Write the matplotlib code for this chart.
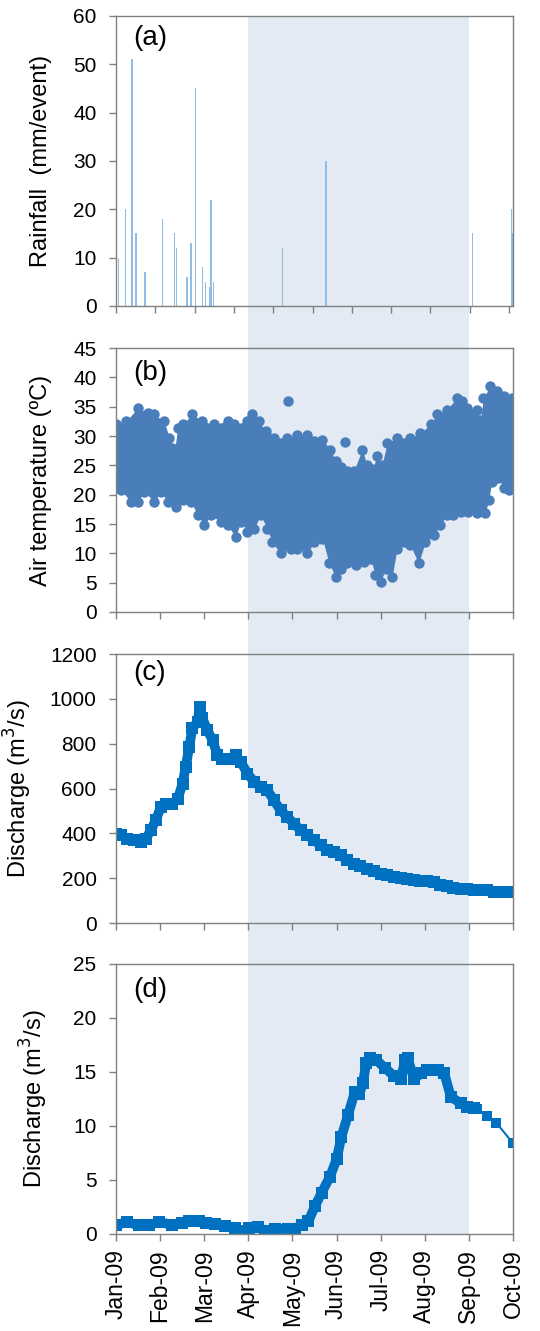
import numpy as np
import matplotlib; matplotlib.use('Agg'); import matplotlib.pyplot as plt
from matplotlib.patches import Rectangle

plt.rcParams.update({'font.family': 'Liberation Sans', 'font.size': 15})
GRAY = '#808080'; SHADE = '#e3eaf4'; BLUE = '#0070c0'; TBLUE = '#4a7ebb'; RAIN = '#8fbde6'

# x positions are in month units from 1 Jan 2009 (0 = Jan-09, 9 = Oct-09)
months = ['Jan-09', 'Feb-09', 'Mar-09', 'Apr-09', 'May-09', 'Jun-09', 'Jul-09', 'Aug-09', 'Sep-09', 'Oct-09']

# (a) rainfall events
rain_x = [0.05, 0.21, 0.36, 0.45, 0.66, 1.05, 1.33, 1.37, 1.61, 1.69, 1.71, 1.80, 1.96, 2.03, 2.12, 2.15, 2.21,
          3.78, 4.76, 8.08, 8.97, 9.0]
rain_mm = [10, 20, 51, 15, 7, 18, 15, 12, 6, 13, 13, 45, 8, 5, 4, 22, 5, 12, 30, 15, 20, 15]

# (b) air temperature: upper / lower envelope of the hourly cloud + two outliers
tup_x = [0.0, 0.23, 0.49, 0.72, 0.87, 1.09, 1.21, 1.28, 1.32, 1.40, 1.51, 1.73, 1.96, 2.22, 2.53, 2.68, 2.98, 3.09,
         3.24, 3.39, 3.47, 3.58, 3.88, 4.11, 4.34, 4.49, 4.68, 4.86, 4.98, 5.09, 5.24, 5.39, 5.58, 5.69, 5.81, 5.92,
         6.03, 6.15, 6.37, 6.67, 6.90, 7.13, 7.28, 7.50, 7.73, 7.84, 7.96, 8.18, 8.26, 8.33, 8.48, 8.63, 8.79, 8.97, 9.0]
tup = [32.0, 32.5, 34.8, 34.0, 33.7, 32.5, 29.7, 28.0, 27.2, 31.4, 32.0, 33.7, 32.5, 32.0, 32.5, 32.0, 32.5, 33.7,
       32.5, 30.8, 29.7, 29.7, 29.7, 30.2, 30.2, 29.1, 29.4, 27.7, 25.7, 24.8, 24.0, 24.0, 27.7, 25.1, 24.3, 26.6,
       25.1, 28.8, 29.7, 29.7, 30.5, 32.0, 33.7, 34.5, 36.5, 35.9, 34.8, 34.5, 32.8, 36.5, 38.5, 37.6, 36.8, 36.5, 36.0]
tlo_x = [0.0, 0.11, 0.34, 0.49, 0.64, 0.87, 1.02, 1.17, 1.36, 1.51, 1.70, 1.85, 2.00, 2.15, 2.38, 2.53, 2.71, 2.83,
         2.98, 3.13, 3.28, 3.43, 3.54, 3.73, 3.96, 4.11, 4.34, 4.49, 4.68, 4.83, 4.98, 5.09, 5.24, 5.43, 5.62, 5.77,
         5.88, 6.00, 6.11, 6.26, 6.37, 6.52, 6.67, 6.86, 7.01, 7.20, 7.35, 7.50, 7.65, 7.81, 7.99, 8.18, 8.37, 8.45,
         8.52, 8.67, 8.79, 8.90, 9.0]
tlo = [21.6, 20.8, 18.8, 18.8, 20.5, 18.8, 20.5, 18.8, 17.9, 19.1, 18.8, 16.5, 14.8, 16.5, 15.4, 14.8, 12.8, 15.4,
       13.7, 14.2, 16.5, 14.2, 11.9, 10.0, 10.8, 10.8, 10.0, 11.9, 12.5, 8.3, 6.0, 7.4, 8.3, 8.0, 8.5, 9.1,
       6.3, 5.1, 7.4, 6.0, 10.8, 11.9, 11.4, 8.3, 11.9, 13.1, 14.8, 16.5, 16.5, 17.1, 17.1, 16.8, 16.8, 19.1,
       22.2, 22.8, 21.1, 20.8, 22.2]
tout_x = [3.90, 5.19]
tout = [36.0, 29.0]

# (c) discharge, main river
qc_x = [0.0, 0.11, 0.26, 0.41, 0.57, 0.68, 0.79, 0.90, 1.02, 1.13, 1.28, 1.40, 1.51, 1.58, 1.66, 1.73, 1.85, 1.90,
        1.96, 2.07, 2.19, 2.30, 2.41, 2.60, 2.71, 2.83, 2.98, 3.13, 3.28, 3.43, 3.58, 3.73, 3.88, 4.03, 4.19, 4.34,
        4.49, 4.64, 4.79, 4.94, 5.09, 5.24, 5.39, 5.54, 5.69, 5.84, 6.00, 6.15, 6.30, 6.45, 6.60, 6.75, 6.90, 7.05,
        7.20, 7.35, 7.50, 7.65, 7.81, 7.96, 8.11, 8.26, 8.41, 8.56, 8.71, 8.86, 9.05]
qc = [399, 392, 377, 369, 362, 377, 414, 459, 518, 533, 533, 555, 622, 697, 786, 868, 898, 965,
      913, 861, 816, 749, 734, 734, 749, 719, 667, 630, 607, 593, 548, 503, 474, 444, 414, 392,
      369, 347, 325, 317, 302, 280, 265, 253, 243, 232, 220, 213, 205, 202, 198, 191, 188, 188,
      183, 171, 164, 158, 153, 153, 149, 149, 149, 138, 138, 138, 138]

# (d) discharge, tributary (dense record to early Sep, sparse afterwards)
qd_x = [0.0, 0.26, 0.53, 0.75, 0.98, 1.28, 1.50, 1.65, 1.88, 2.03, 2.25, 2.48, 2.70, 2.86, 3.01, 3.23, 3.38, 3.61,
        3.91, 4.06, 4.21, 4.36, 4.51, 4.66, 4.85, 5.00, 5.11, 5.26, 5.41, 5.52, 5.60, 5.67, 5.75, 5.90, 6.09, 6.31,
        6.46, 6.55, 6.61, 6.76, 6.91, 7.06, 7.29, 7.44, 7.59, 7.81, 7.96, 8.11]
qd = [0.86, 1.08, 0.80, 0.86, 1.08, 0.86, 1.00, 1.23, 1.17, 1.00, 0.93, 0.71, 0.56, 0.31, 0.56, 0.62, 0.31, 0.46,
      0.49, 0.49, 0.86, 1.17, 2.56, 3.80, 5.30, 6.90, 9.00, 11.0, 13.1, 13.0, 14.0, 15.8, 16.3, 16.1, 15.4, 14.6,
      14.3, 16.1, 16.3, 14.3, 14.9, 15.2, 15.2, 14.9, 12.7, 12.1, 11.8, 11.7]
qd_tail_x = [8.11, 8.19, 8.41, 8.62, 9.0]
qd_tail = [11.7, 11.6, 10.9, 10.3, 8.4]

fig = plt.figure(figsize=(5.4, 13.31), dpi=100)
L, W = 116/540, 397/540
axa = fig.add_axes([L, 0.7701, W, 0.2179])
axb = fig.add_axes([L, 0.5402, W, 0.1983])
axc = fig.add_axes([L, 0.3065, W, 0.2021])
axd = fig.add_axes([L, 0.0729, W, 0.2029])

# shaded Apr-Sep window spanning all panels
fig.patches.append(Rectangle((L + W*3/9, 0.0729), W*5/9, 0.988 - 0.0729, transform=fig.transFigure,
                             color=SHADE, lw=0, zorder=-1))

axa.bar(rain_x, rain_mm, width=0.03, color=RAIN, lw=0)
axa.set_ylim(0, 60); axa.set_yticks(range(0, 61, 10))
axa.set_xticks(np.arange(11)*0.891)

xs = sorted(set(tup_x) | set(tlo_x))
axb.fill_between(xs, np.interp(xs, tlo_x, tlo), np.interp(xs, tup_x, tup), color=TBLUE, lw=0)
for px, py in ((tup_x, tup), (tlo_x, tlo), (tout_x, tout)):
    axb.plot(px, py, 'o', color=TBLUE, ms=7.5, mew=0)
axb.set_ylim(0, 45); axb.set_yticks(range(0, 46, 5))

axc.plot(qc_x, qc, 's-', color=BLUE, lw=7, ms=8, mew=0, solid_joinstyle='round')
axc.set_ylim(0, 1200); axc.set_yticks(range(0, 1201, 200))

axd.plot(qd_x, qd, 's-', color=BLUE, lw=7, ms=8, mew=0, solid_joinstyle='round')
axd.plot(qd_tail_x, qd_tail, 's-', color=BLUE, lw=1.5, ms=7, mew=0)
axd.set_ylim(0, 25); axd.set_yticks(range(0, 26, 5))

for ax in (axb, axc, axd):
    ax.set_xticks(range(10))
for ax in (axa, axb, axc):
    ax.set_xticklabels([])
axd.set_xticklabels(months, rotation=90)

labels = ['Rainfall  (mm/event)', 'Air temperature (ºC)', 'Discharge (m$^3$/s)', 'Discharge (m$^3$/s)']
lab_x = [-0.161, -0.161, -0.207, -0.166]
tags = ['(a)', '(b)', '(c)', '(d)']
tag_y = [0.924, 0.905, 0.929, 0.904]
for ax, lab, lx, tg, ty in zip((axa, axb, axc, axd), labels, lab_x, tags, tag_y):
    ax.set_xlim(0, 9)
    ax.set_facecolor('none')
    for s in ax.spines.values():
        s.set_color(GRAY); s.set_linewidth(1)
    ax.tick_params(direction='out', length=5, width=1, color=GRAY, labelsize=15, pad=9)
    ax.set_ylabel(lab, fontsize=17)
    ax.yaxis.set_label_coords(lx, 0.5)
    ax.text(0.043, ty, tg, transform=ax.transAxes, fontsize=20, va='center', ha='left')
axd.tick_params(axis='x', labelsize=16.5, pad=6)

fig.savefig('out.png', dpi=100)
